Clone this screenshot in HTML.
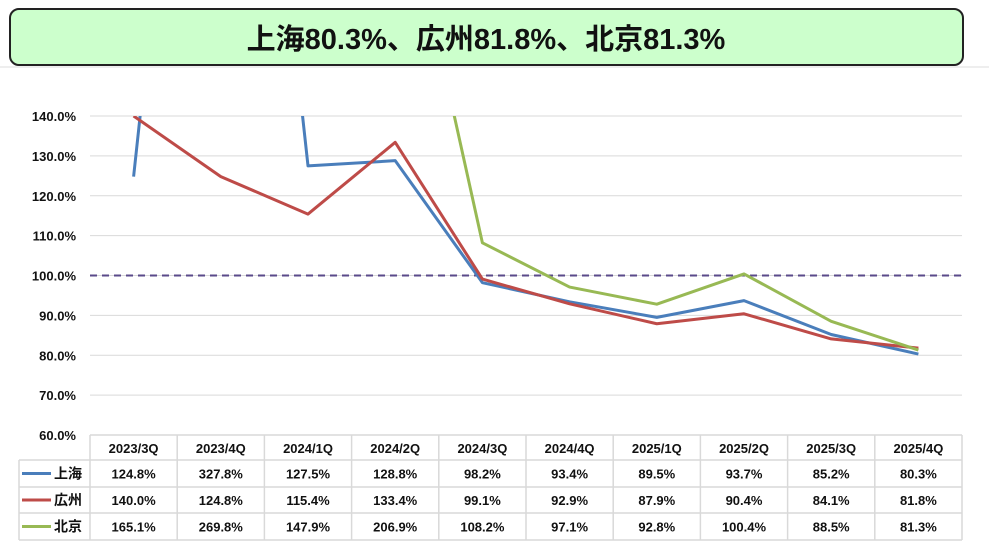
<!DOCTYPE html>
<html><head><meta charset="utf-8"><style>
body{margin:0;background:#fff;width:989px;height:551px;overflow:hidden}
svg text{font-family:"Liberation Sans","Noto Sans CJK JP",sans-serif;font-weight:bold}
</style></head><body>
<svg id="chart" width="989" height="551" xmlns="http://www.w3.org/2000/svg">
<rect x="10" y="9" width="953" height="56" rx="9" fill="#ccffcc" stroke="#222" stroke-width="2"/>
<text x="486" y="49" text-anchor="middle" font-size="29" fill="#111">上海80.3%、広州81.8%、北京81.3%</text>
<line x1="0" y1="67" x2="989" y2="67" stroke="#ddd" stroke-width="1"/>
<defs><clipPath id="pc"><rect x="90" y="116" width="872" height="320"/></clipPath></defs>
<g id="grid"></g><g id="lines" clip-path="url(#pc)"></g><g id="table"></g>
</svg>
<script>
const categories=["2023/3Q","2023/4Q","2024/1Q","2024/2Q","2024/3Q","2024/4Q","2025/1Q","2025/2Q","2025/3Q","2025/4Q"];
const shanghai=[124.8,327.8,127.5,128.8,98.2,93.4,89.5,93.7,85.2,80.3];
const guangzhou=[140.0,124.8,115.4,133.4,99.1,92.9,87.9,90.4,84.1,81.8];
const beijing=[165.1,269.8,147.9,206.9,108.2,97.1,92.8,100.4,88.5,81.3];
const yTicks=[60,70,80,90,100,110,120,130,140];
const NS="http://www.w3.org/2000/svg";
const X0=90,X1=962,Y140=116,Y60=435;
const cw=(X1-X0)/categories.length;
const x=i=>X0+cw*(i+0.5);
const y=v=>Y60-(v-60)*(Y60-Y140)/80;
function mk(p,t,a){const e=document.createElementNS(NS,t);for(const k in a)e.setAttribute(k,a[k]);p.appendChild(e);return e;}
const grid=document.getElementById('grid'),lines=document.getElementById('lines'),tbl=document.getElementById('table');
yTicks.forEach(v=>{
  if(v>60){const l=mk(grid,'line',{x1:X0,x2:X1,y1:y(v),y2:y(v),stroke:'#d9d9d9','stroke-width':1});
  
  }
  const t=mk(grid,'text',{x:76,y:y(v)+5,'text-anchor':'end','font-size':13,fill:'#111'});t.textContent=v.toFixed(1)+'%';
  
  
});
const ref=mk(grid,'line',{x1:X0,x2:X1,y1:y(100),y2:y(100),stroke:'#5a4a8a','stroke-width':2,'stroke-dasharray':'7,5'});


const series=[["上海",shanghai,"#4a7ebb","series-shanghai"],["広州",guangzhou,"#be4b48","series-guangzhou"],["北京",beijing,"#98b954","series-beijing"]];
series.forEach(s=>{
  const p=mk(lines,'polyline',{points:s[1].map((v,i)=>x(i)+','+y(v)).join(' '),fill:'none',stroke:s[2],'stroke-width':3,'stroke-linejoin':'round'});
  
  
});
// table
const rowsY=[435,460,487,513,540];
const hl=(x1,x2,yy)=>mk(tbl,'line',{x1:x1,x2:x2,y1:yy,y2:yy,stroke:'#d9d9d9','stroke-width':1.5});
hl(X0,X1,435);hl(19,X1,460);hl(19,X1,487);hl(19,X1,513);hl(19,X1,540);
mk(tbl,'line',{x1:19,x2:19,y1:460,y2:540,stroke:'#d9d9d9','stroke-width':1.5});
for(let i=0;i<=categories.length;i++)mk(tbl,'line',{x1:X0+cw*i,x2:X0+cw*i,y1:435,y2:540,stroke:'#d9d9d9','stroke-width':1.5});
categories.forEach((c,i)=>{const t=mk(tbl,'text',{x:x(i),y:453,'text-anchor':'middle','font-size':13,fill:'#111'});t.textContent=c;
  
  });
series.forEach((s,r)=>{
  const cy=(rowsY[r+1]+rowsY[r+2])/2;
  const lg=mk(tbl,'line',{x1:22,x2:51,y1:cy,y2:cy,stroke:s[2],'stroke-width':3});
  
  
  const lt=mk(tbl,'text',{x:54,y:cy+5,'font-size':14,fill:'#111'});lt.textContent=s[0];
  
  
  s[1].forEach((v,i)=>{const t=mk(tbl,'text',{x:x(i),y:cy+5,'text-anchor':'middle','font-size':13,fill:'#111'});t.textContent=v.toFixed(1)+'%';
    
    });
});
</script>
</body></html>
